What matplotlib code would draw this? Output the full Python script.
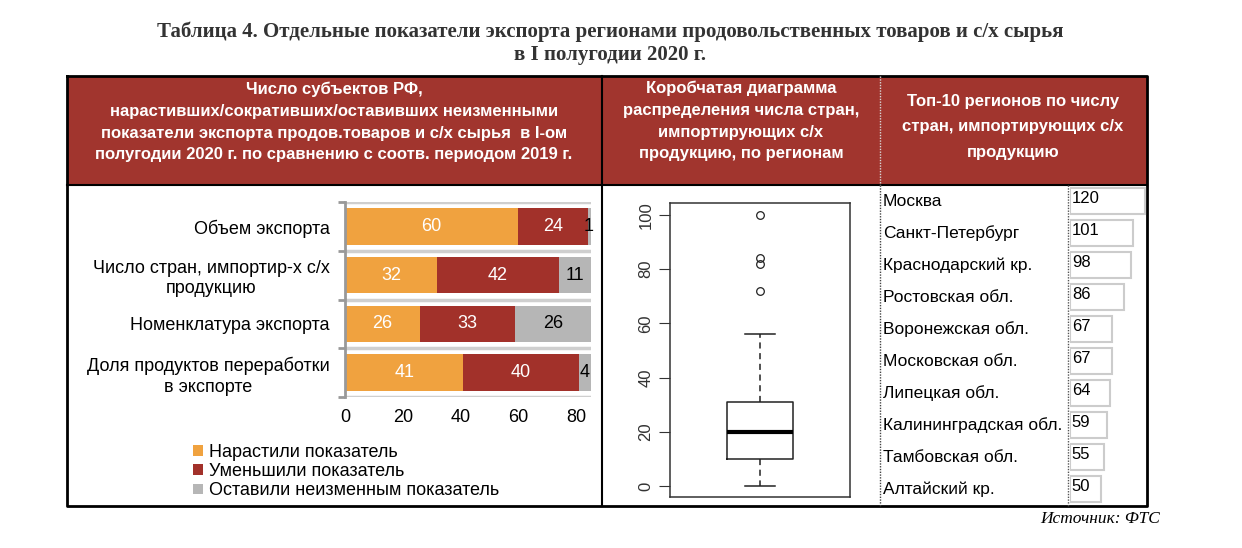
import matplotlib
matplotlib.use('Agg')
import matplotlib.pyplot as plt
import matplotlib.transforms as mtransforms
from matplotlib.patches import Rectangle

#-----------------------------------------
#--- Data
#-----------------------------------------
indicators = ['Объем экспорта', 'Число стран, импортир-х с/х\nпродукцию',
              'Номенклатура экспорта', 'Доля продуктов переработки\nв экспорте']
grew = [60, 32, 26, 41]
fell = [24, 42, 33, 40]
same = [1, 11, 26, 4]
legend_labels = ['Нарастили показатель', 'Уменьшили показатель', 'Оставили неизменным показатель']

# box plot of number of importing countries per region
box_med = 20
box_q1 = 10
box_q3 = 31
whisk_lo = 0
whisk_hi = 56
outliers = [72, 82, 84, 100]

regions = ['Москва', 'Санкт-Петербург', 'Краснодарский кр.', 'Ростовская обл.',
           'Воронежская обл.', 'Московская обл.', 'Липецкая обл.',
           'Калининградская обл.', 'Тамбовская обл.', 'Алтайский кр.']
n_countries = [120, 101, 98, 86, 67, 67, 64, 59, 55, 50]

title = ('Таблица 4. Отдельные показатели экспорта регионами продовольственных товаров и с/х сырья\n'
         'в I полугодии 2020 г.')
head1 = ('Число субъектов РФ,\nнарастивших/сокративших/оставивших неизменными\n'
         'показатели экспорта продов.товаров и с/х сырья  в I-ом\n'
         'полугодии 2020 г. по сравнению с соотв. периодом 2019 г.')
head2 = 'Коробчатая диаграмма\nраспределения числа стран,\nимпортирующих с/х\nпродукцию, по регионам'
head3 = 'Топ-10 регионов по числу\nстран, импортирующих с/х\nпродукцию'

c_orange = '#F0A23F'
c_red = '#A2312A'
c_grey = '#B6B6B6'
c_head = '#A1352E'

plt.rcParams['font.family'] = ['Liberation Sans', 'DejaVu Sans']

W, H = 1242, 548
fig = plt.figure(figsize=(W / 100, H / 100), dpi=100)

def px_axes(x0, y0, x1, y1, **kw):
    # axes placed by pixel box (top-left origin)
    return fig.add_axes([x0 / W, 1 - y1 / H, (x1 - x0) / W, (y1 - y0) / H], **kw)

#-----------------------------------------
#--- Table frame and header
#-----------------------------------------
frame = px_axes(0, 0, W, H)
frame.set_xlim(0, W)
frame.set_ylim(H, 0)
frame.axis('off')
frame.add_patch(Rectangle((67, 76), 1147 - 67, 185 - 76, facecolor=c_head, edgecolor='none'))
frame.plot([67, 1147, 1147, 67, 67], [76, 76, 506, 506, 76], color='black', lw=2)
frame.plot([67, 1147], [185, 185], color='black', lw=1.5)
frame.plot([602, 602], [76, 506], color='black', lw=1.5)
frame.plot([880, 880], [76, 185], color='#D8D8D8', lw=1, ls=(0, (1, 1)))
frame.plot([880, 880], [185, 506], color='#444444', lw=1, ls=(0, (1, 1)))
frame.plot([1068, 1068], [185, 506], color='#555555', lw=1, ls=(0, (1, 1)))

frame.text(610, 43, title, ha='center', va='center', fontsize=15, fontweight='bold',
           family='Liberation Serif', color='#333333', linespacing=1.2)
frame.text(334, 122, head1, ha='center', va='center', fontsize=12, fontweight='bold',
           color='white', linespacing=1.55)
frame.text(741, 121, head2, ha='center', va='center', fontsize=12, fontweight='bold',
           color='white', linespacing=1.55)
frame.text(1013, 127, head3, ha='center', va='center', fontsize=12, fontweight='bold',
           color='white', linespacing=1.85)
frame.text(1160, 519, 'Источник: ФТС', ha='right', va='center', fontsize=12.5,
           family='Liberation Serif', style='italic')

#-----------------------------------------
#--- Stacked bars
#-----------------------------------------
ax = px_axes(345, 202, 590.5, 397)
pos = list(range(len(indicators)))
left2 = [a + b for a, b in zip(grew, fell)]
b1 = ax.barh(pos, grew, height=0.75, color=c_orange, label=legend_labels[0])
b2 = ax.barh(pos, fell, left=grew, height=0.75, color=c_red, label=legend_labels[1])
b3 = ax.barh(pos, same, left=left2, height=0.75, color=c_grey, label=legend_labels[2])
ax.bar_label(b1, label_type='center', color='white', fontsize=13)
ax.bar_label(b2, label_type='center', color='white', fontsize=13)
ax.bar_label(b3, label_type='center', color='black', fontsize=13)
ax.set_xlim(0, 85)
ax.set_ylim(3.5, -0.5)
for yb in [-0.5, 0.5, 1.5, 2.5, 3.5]:
    ax.axhline(yb, color='#CFCFCF', lw=2.5, zorder=0)
for s in ['top', 'right', 'bottom']:
    ax.spines[s].set_visible(False)
ax.spines['left'].set_color('#999999')
ax.spines['left'].set_linewidth(2)
ax.set_yticks(pos)
ax.set_yticklabels(indicators, fontsize=13, ha='right', multialignment='center',
                   linespacing=1.25)
ax.set_yticks([-0.5, 0.5, 1.5, 2.5, 3.5], minor=True)
ax.tick_params(axis='y', which='major', length=0, pad=11)
ax.tick_params(axis='y', which='minor', length=5, width=2, color='#999999')
ax.set_xticks([0, 20, 40, 60, 80])
ax.tick_params(axis='x', length=0, labelsize=13, pad=9)

fig.legend(handles=[b1, b2, b3], loc='upper left', bbox_to_anchor=(193 / W, 1 - 444 / H),
           frameon=False, fontsize=13, handlelength=0.55, handleheight=0.55,
           handletextpad=0.35, labelspacing=0.12, borderaxespad=0, borderpad=0)

#-----------------------------------------
#--- Box plot
#-----------------------------------------
bx = px_axes(670, 203, 850, 497)
stats = [dict(med=box_med, q1=box_q1, q3=box_q3, whislo=whisk_lo, whishi=whisk_hi,
              fliers=outliers)]
bx.bxp(stats, positions=[1], widths=0.37, capwidths=0.17, showfliers=True,
       boxprops=dict(color='#222222', lw=1.1),
       medianprops=dict(color='black', lw=3),
       whiskerprops=dict(color='#222222', lw=1.1, ls=(0, (4, 3))),
       capprops=dict(color='#222222', lw=1.1),
       flierprops=dict(marker='o', markerfacecolor='none', markeredgecolor='#222222',
                       markersize=5.5, markeredgewidth=0.9))
bx.set_xlim(0.5, 1.5)
bx.set_ylim(-4.06, 104.4)
bx.set_xticks([])
bx.set_yticks([0, 20, 40, 60, 80, 100])
bx.tick_params(axis='y', length=8, color='#333333', labelsize=12, pad=4)
for lab in bx.get_yticklabels():
    lab.set_rotation(90)
    lab.set_va('center')
    lab.set_color('#333333')
for s in bx.spines.values():
    s.set_color('#333333')
    s.set_linewidth(1.1)

#-----------------------------------------
#--- Top-10 regions
#-----------------------------------------
tx = px_axes(1070, 185, 1147, 505)
rpos = list(range(len(regions)))
tx.barh(rpos, n_countries, height=0.81, color='white', edgecolor='#CCCCCC', lw=1.5)
tx.set_xlim(0, 123.2)
tx.set_ylim(9.5, -0.5)
tx.axis('off')
trans = mtransforms.blended_transform_factory(fig.transFigure, tx.transData)
for i in rpos:
    tx.text(883 / W, i, regions[i], transform=trans, ha='left', va='center', fontsize=12.5)
    tx.text(3, i - 0.32, str(n_countries[i]), ha='left', va='top', fontsize=12)

fig.savefig('out.png', dpi=100)
